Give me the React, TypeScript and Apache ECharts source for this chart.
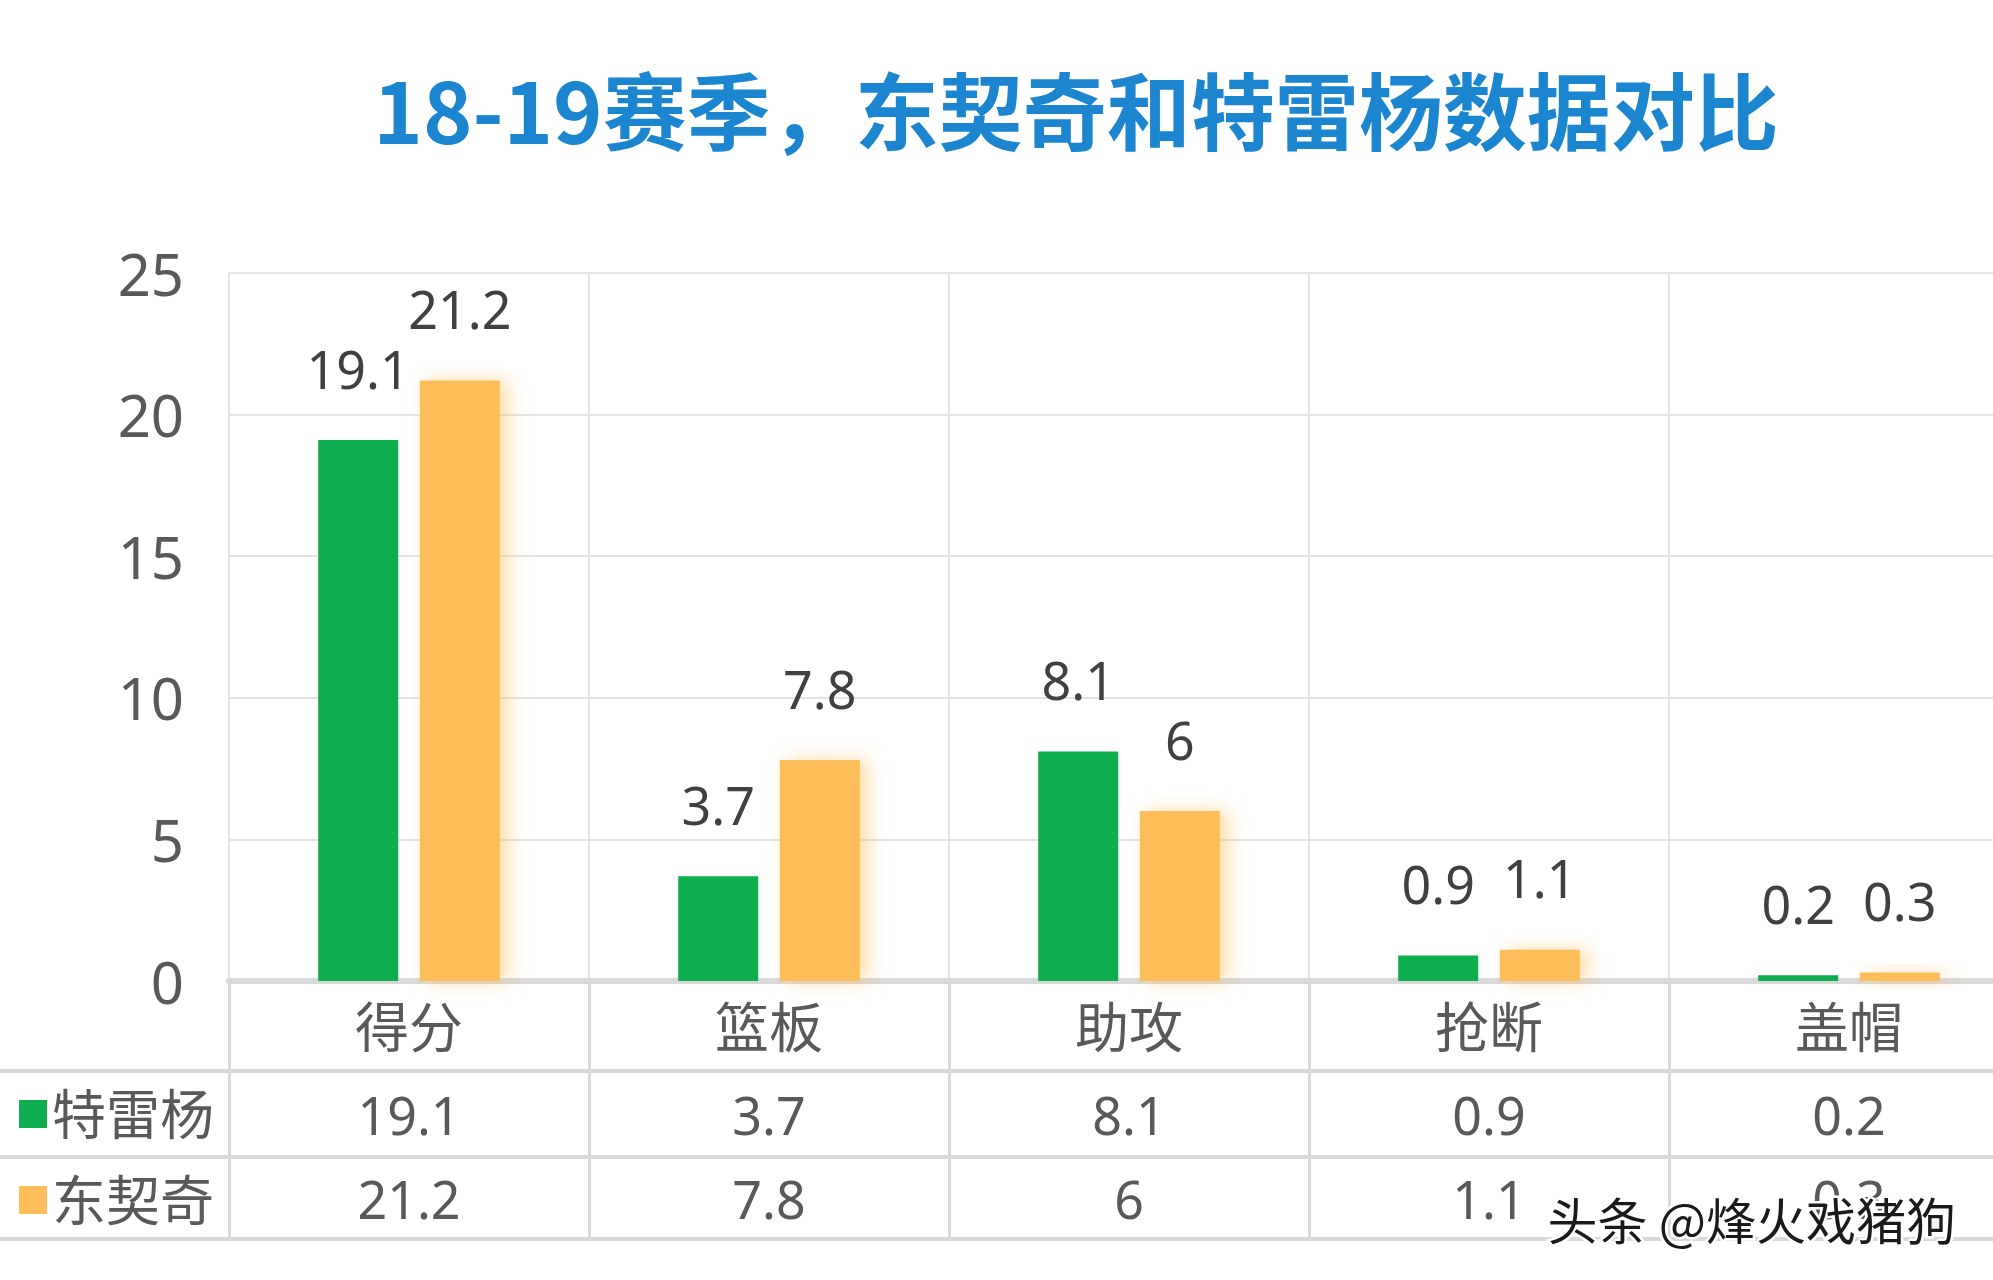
import React, { useEffect, useRef } from "react";
import * as echarts from "echarts";

const categories = ["得分", "篮板", "助攻", "抢断", "盖帽"];
const seriesNames = ["特雷杨", "东契奇"];
const youngValues = [19.1, 3.7, 8.1, 0.9, 0.2];
const doncicValues = [21.2, 7.8, 6, 1.1, 0.3];
const yTicks = { min: 0, max: 25, interval: 5 };
const titleText = "18-19赛季，东契奇和特雷杨数据对比";
const watermark = "头条 @烽火戏猪狗";

const GREEN = "#0EAD4E";
const ORANGE = "#FDBD59";
const LINE = "#d9d9d9";
const TEXT = "#595959";
const FONT = '"Noto Sans", "Noto Sans CJK SC", sans-serif';

const GRID_LEFT = 229;
const GRID_TOP = 273;
const GRID_H = 708;
const CAT_W = 360;
const ROW1 = 90;
const ROW2 = 176;
const ROW3 = 258;

export default function App() {
  const ref = useRef<HTMLDivElement>(null);
  useEffect(() => {
    if (!ref.current) return;
    const chart = echarts.init(ref.current, undefined, { renderer: "svg" });
    const gridBottom = GRID_TOP + GRID_H;
    const tableAxis = (offset: number, data: string[], tickLen: number, margin: number, showTick = true) => ({
      type: "category",
      gridIndex: 0,
      position: "bottom",
      offset,
      data,
      axisLine: { show: true, lineStyle: { color: LINE, width: 4 } },
      axisTick: { show: showTick, alignWithLabel: false, inside: false, length: tickLen, interval: 0, lineStyle: { color: LINE, width: 3 } },
      axisLabel: { show: true, interval: 0, margin, fontSize: 52, lineHeight: 54, color: TEXT, fontFamily: FONT },
      splitLine: { show: false },
    });
    chart.setOption({
      animation: false,
      backgroundColor: "#ffffff",
      title: {
        text: titleText,
        left: 1071,
        top: 52,
        textAlign: "center",
        textStyle: { fontSize: 84, fontWeight: "bold", color: "#1B86CF", fontFamily: '"Noto Sans CJK SC", sans-serif', lineHeight: 100 },
      },
      legend: {
        data: seriesNames,
        orient: "vertical",
        left: 19,
        top: gridBottom + ROW1 + 13,
        padding: 0,
        itemWidth: 28,
        itemHeight: 28,
        itemGap: 26,
        icon: "rect",
        itemStyle: { shadowBlur: 0, shadowOffsetX: 0 },
        textStyle: { fontSize: 54, lineHeight: 60, color: TEXT, fontFamily: FONT, padding: [0, 0, 0, 0] },
      },
      grid: { left: GRID_LEFT, top: GRID_TOP, width: CAT_W * categories.length, height: GRID_H },
      xAxis: [
        {
          type: "category",
          data: categories,
          position: "bottom",
          axisLine: { show: true, lineStyle: { color: LINE, width: 6 } },
          axisTick: { show: true, alignWithLabel: false, length: ROW1, interval: 0, lineStyle: { color: LINE, width: 3 } },
          axisLabel: { interval: 0, margin: 19, fontSize: 54, lineHeight: 54, color: TEXT, fontFamily: FONT },
          splitLine: { show: true, interval: 0, lineStyle: { color: "#e4e4e4", width: 2 } },
        },
        tableAxis(ROW1, youngValues.map(String), ROW2 - ROW1, 16),
        tableAxis(ROW2, doncicValues.map(String), ROW3 - ROW2, 14),
        { ...tableAxis(ROW3, categories.map(() => ""), 0, 0, false), axisLabel: { show: false } },
      ],
      yAxis: {
        type: "value",
        min: yTicks.min,
        max: yTicks.max,
        interval: yTicks.interval,
        axisLine: { show: false },
        axisTick: { show: false },
        axisLabel: { margin: 45, fontSize: 58, lineHeight: 58, padding: [0, 0, 12, 0], color: TEXT, fontFamily: FONT },
        splitLine: { show: true, lineStyle: { color: "#e4e4e4", width: 2 } },
      },
      series: [
        {
          name: seriesNames[0],
          type: "bar",
          data: youngValues,
          barWidth: 80,
          barGap: "27%",
          itemStyle: { color: GREEN },
          label: { show: true, position: "top", distance: 46, fontSize: 52, lineHeight: 52, color: "#404040", fontFamily: FONT },
        },
        {
          name: seriesNames[1],
          type: "bar",
          data: doncicValues,
          barWidth: 80,
          barGap: "27%",
          itemStyle: { color: ORANGE, shadowColor: "rgba(253,189,89,0.55)", shadowBlur: 18, shadowOffsetX: 8 },
          label: { show: true, position: "top", distance: 46, fontSize: 52, lineHeight: 52, color: "#404040", fontFamily: FONT },
        },
      ],
      graphic: [
        ...[ROW1, ROW2, ROW3].map((r) => ({
          type: "line",
          shape: { x1: 0, y1: gridBottom + r, x2: GRID_LEFT, y2: gridBottom + r },
          style: { stroke: LINE, lineWidth: 4 },
        })),
        {
          type: "text",
          left: 1545,
          top: 1190,
          style: {
            text: watermark,
            fontSize: 50,
            fontFamily: '"Noto Sans CJK SC", sans-serif',
            fill: "#1a1a1a",
            stroke: "#ffffff",
            lineWidth: 5,
          },
          z: 100,
        },
      ],
    });
    return () => chart.dispose();
  }, []);
  return (
    <div style={{ position: "fixed", left: 0, top: 0, width: 1993, height: 1280, overflow: "hidden", background: "#fff" }}>
      <div ref={ref} style={{ width: 2040, height: 1280 }} />
    </div>
  );
}
